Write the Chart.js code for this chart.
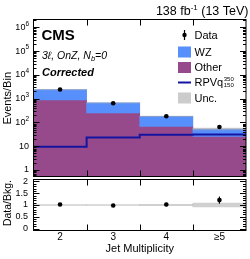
<!DOCTYPE html>
<html>
<head>
<meta charset="utf-8">
<script src="https://cdn.jsdelivr.net/npm/chart.js@4"></script>
<style>
body { margin: 0; background: #fff; }
#wrap { position: relative; width: 250px; height: 259px; }
canvas { position: absolute; left: 0; top: 0; }
</style>
</head>
<body>
<div id="wrap">
  <canvas id="main" width="250" height="259"></canvas>
  <canvas id="ratio" width="250" height="259"></canvas>
</div>
<script>
// values
const bins = ["2", "3", "4", "≥5"];
const other = [880, 250, 68, 26];
const wz = [1510, 410, 111, 27];
const data = [2440, 645, 183, 64];
const signal = [9.5, 23, 30, 31];
const unc = [0.02, 0.02, 0.03, 0.08];
const logTicks = [1, 10, 100, 1e3, 1e4, 1e5, 1e6];
const ratioTicks = [0, 0.5, 1, 1.5, 2];

const total = other.map((v, i) => v + wz[i]);
const ratio = data.map((v, i) => v / total[i]);
const ratioErr = data.map((v, i) => Math.sqrt(v) / total[i]);
const dataErr = data.map(v => Math.sqrt(v));
const sigSteps = signal.flatMap((v, i) => [{x: i, y: v}, {x: i + 1, y: v}]);

const FONT = "'Liberation Sans', Arial, sans-serif";
const BLUE = "#5790fc", PURPLE = "#964a8b", SIG = "#1414a0", UNC = "rgba(170,170,170,0.55)";
const yMin = 0.533, yMax = 2.13e6;

function line(ctx, x1, y1, x2, y2) {
    ctx.beginPath();
    ctx.moveTo(x1, y1);
    ctx.lineTo(x2, y2);
    ctx.stroke();
}

function rich(ctx, parts, x, y, align) {
    let w = 0;
    parts.forEach(p => { ctx.font = p.font; p.w = ctx.measureText(p.text).width; w += p.w; });
    let cx = align === "right" ? x - w : x;
    parts.forEach(p => {
        ctx.font = p.font;
        ctx.fillText(p.text, cx, y + (p.dy || 0));
        cx += p.w;
    });
}

function edgeTicks(ctx, a, xe) {
    for (let i = 1; i < bins.length; i++) {
        const px = Math.round(xe.getPixelForValue(i)) + 0.5;
        line(ctx, px, a.top, px, a.top + 6);
        line(ctx, px, a.bottom, px, a.bottom - 6);
    }
}

const errorBars = {
    id: "errorBars",
    afterDatasetsDraw(chart, args, opts) {
        const ctx = chart.ctx, y = chart.scales.y;
        const meta = chart.getDatasetMeta(0);
        ctx.save();
        ctx.strokeStyle = "#000";
        ctx.lineWidth = 1.2;
        meta.data.forEach((pt, i) => {
            const v = opts.values[i], e = opts.errors[i];
            line(ctx, pt.x, y.getPixelForValue(v - e), pt.x, y.getPixelForValue(v + e));
        });
        ctx.restore();
    }
};

const mainDecor = {
    id: "mainDecor",
    afterDraw(chart) {
        const {ctx, chartArea: a, scales} = chart;
        const y = scales.y;
        ctx.save();
        ctx.strokeStyle = "#000";
        ctx.fillStyle = "#000";
        ctx.lineWidth = 1;
        ctx.strokeRect(a.left, a.top, a.right - a.left, a.bottom - a.top);
        for (let k = -1; k <= 6; k++) {
            for (let m = 1; m <= 9; m++) {
                const v = m * Math.pow(10, k);
                if (v < y.min || v > y.max) continue;
                const py = Math.round(y.getPixelForValue(v)) + 0.5;
                const len = m === 1 ? 6 : 3;
                line(ctx, a.left, py, a.left + len, py);
                line(ctx, a.right, py, a.right - len, py);
            }
        }
        edgeTicks(ctx, a, scales.xe);

        // y tick labels
        ctx.textBaseline = "middle";
        logTicks.forEach(v => {
            const py = y.getPixelForValue(v);
            const k = Math.round(Math.log10(v));
            if (k < 2) {
                ctx.font = "9px " + FONT;
                ctx.textAlign = "right";
                ctx.fillText(String(v), 29, py);
            } else {
                ctx.textAlign = "left";
                rich(ctx, [
                    {text: "10", font: "9px " + FONT},
                    {text: String(k), font: "6.5px " + FONT, dy: -3.5}
                ], 29, py, "right");
            }
        });

        // axis title
        ctx.save();
        ctx.translate(8, 72);
        ctx.rotate(-Math.PI / 2);
        ctx.textAlign = "right";
        ctx.font = "11px " + FONT;
        ctx.fillText("Events/Bin", 0, 0);
        ctx.restore();

        // header and labels
        ctx.textBaseline = "alphabetic";
        ctx.textAlign = "left";
        rich(ctx, [
            {text: "138 fb", font: "12.5px " + FONT},
            {text: "-1", font: "8px " + FONT, dy: -5},
            {text: " (13 TeV)", font: "12.5px " + FONT}
        ], 248.5, 15, "right");
        ctx.font = "bold 15px " + FONT;
        ctx.fillText("CMS", 41.5, 39.5);
        rich(ctx, [
            {text: "3ℓ, OnZ, N", font: "italic 10.5px " + FONT},
            {text: "b", font: "italic 7.5px " + FONT, dy: 2},
            {text: "=0", font: "italic 10.5px " + FONT}
        ], 42, 59, "left");
        ctx.font = "bold italic 11px " + FONT;
        ctx.fillText("Corrected", 42, 76);

        // legend
        const lx = 178, tx = 194.5, rows = [35, 52, 67.5, 82.5, 98];
        ctx.textBaseline = "middle";
        ctx.font = "11px " + FONT;
        ctx.beginPath();
        ctx.arc(lx + 6.5, rows[0], 2.2, 0, Math.PI * 2);
        ctx.fill();
        ctx.lineWidth = 1.2;
        line(ctx, lx + 6.5, rows[0] - 5, lx + 6.5, rows[0] + 5);
        ctx.fillText("Data", tx, rows[0] + 0.5);
        ctx.fillStyle = BLUE;
        ctx.fillRect(lx, rows[1] - 5.5, 13, 11);
        ctx.fillStyle = PURPLE;
        ctx.fillRect(lx, rows[2] - 5.5, 13, 11);
        ctx.fillStyle = "#cccccc";
        ctx.fillRect(lx, rows[4] - 5.5, 13, 11);
        ctx.strokeStyle = SIG;
        ctx.lineWidth = 2;
        line(ctx, lx, rows[3], lx + 13, rows[3]);
        ctx.fillStyle = "#000";
        ctx.fillText("WZ", tx, rows[1] + 0.5);
        ctx.fillText("Other", tx, rows[2] + 0.5);
        ctx.fillText("Unc.", tx, rows[4] + 0.5);
        ctx.fillText("RPVq", tx, rows[3] + 0.5);
        const qw = ctx.measureText("RPVq").width;
        ctx.font = "6px " + FONT;
        ctx.fillText("350", tx + qw + 0.5, rows[3] - 3.5);
        ctx.fillText("150", tx + qw + 0.5, rows[3] + 3);
        ctx.restore();
    }
};

const ratioDecor = {
    id: "ratioDecor",
    afterDraw(chart) {
        const {ctx, chartArea: a, scales} = chart;
        const y = scales.y, x = scales.x;
        ctx.save();
        ctx.strokeStyle = "#000";
        ctx.fillStyle = "#000";
        ctx.lineWidth = 1;
        ctx.strokeRect(a.left, a.top, a.right - a.left, a.bottom - a.top);
        for (let i = 0; i <= 20; i++) {
            const v = i / 10;
            const py = Math.round(y.getPixelForValue(v)) + 0.5;
            const len = i % 5 === 0 ? 6 : 3;
            line(ctx, a.left, py, a.left + len, py);
            line(ctx, a.right, py, a.right - len, py);
        }
        edgeTicks(ctx, a, scales.xe);

        ctx.textBaseline = "middle";
        ctx.textAlign = "right";
        ctx.font = "9px " + FONT;
        ratioTicks.forEach(v => ctx.fillText(String(v), 28, y.getPixelForValue(v)));

        ctx.textAlign = "center";
        ctx.font = "10px " + FONT;
        bins.forEach((b, i) => ctx.fillText(b, x.getPixelForValue(i), 237));
        ctx.font = "11px " + FONT;
        ctx.textBaseline = "alphabetic";
        ctx.fillText("Jet Multiplicity", (a.left + a.right) / 2, 252);

        ctx.save();
        ctx.translate(8, 180);
        ctx.rotate(-Math.PI / 2);
        ctx.textAlign = "right";
        ctx.textBaseline = "middle";
        ctx.font = "10.5px " + FONT;
        ctx.fillText("Data/Bkg.", 0, 0);
        ctx.restore();
        ctx.restore();
    }
};

const common = {
    responsive: false,
    animation: false,
    devicePixelRatio: 1,
    events: [],
    plugins: {legend: {display: false}, tooltip: {enabled: false}}
};

const barStyle = {type: "bar", grouped: false, barPercentage: 1, categoryPercentage: 1, borderWidth: 0};

new Chart(document.getElementById("main"), {
    data: {
        labels: bins,
        datasets: [
            {type: "line", label: "Data", data: data, showLine: false, pointRadius: 2.3,
             pointBackgroundColor: "#000", pointBorderWidth: 0, borderColor: "#000"},
            {type: "line", label: "RPVq", xAxisID: "xe", data: sigSteps, borderColor: SIG,
             borderWidth: 2, pointRadius: 0, tension: 0},
            {...barStyle, label: "Unc.", data: total.map((v, i) => [v * (1 - unc[i]), v * (1 + unc[i])]),
             backgroundColor: UNC},
            {...barStyle, label: "WZ", data: other.map((v, i) => [v, total[i]]), backgroundColor: BLUE},
            {...barStyle, label: "Other", data: other.map(v => [yMin, v]), backgroundColor: PURPLE}
        ]
    },
    options: {
        ...common,
        layout: {padding: {left: 33.5, right: 1.5, top: 19.5, bottom: 82.5}},
        scales: {
            x: {type: "category", offset: true, display: false},
            xe: {type: "linear", min: 0, max: 4, display: false},
            y: {type: "logarithmic", min: yMin, max: yMax, display: false}
        },
        plugins: {...common.plugins, errorBars: {values: data, errors: dataErr}}
    },
    plugins: [errorBars, mainDecor]
});

new Chart(document.getElementById("ratio"), {
    data: {
        labels: bins,
        datasets: [
            {type: "line", label: "Data", data: ratio, showLine: false, pointRadius: 2.3,
             pointBackgroundColor: "#000", pointBorderWidth: 0, borderColor: "#000"},
            {...barStyle, label: "Unc.", data: unc.map(u => [1 - u, 1 + u]), backgroundColor: UNC}
        ]
    },
    options: {
        ...common,
        layout: {padding: {left: 33.5, right: 1.5, top: 179.5, bottom: 28.5}},
        scales: {
            x: {type: "category", offset: true, display: false},
            xe: {type: "linear", min: 0, max: 4, display: false},
            y: {type: "linear", min: -0.085, max: 2.085, display: false}
        },
        plugins: {...common.plugins, errorBars: {values: ratio, errors: ratioErr}}
    },
    plugins: [errorBars, ratioDecor]
});
</script>
</body>
</html>
